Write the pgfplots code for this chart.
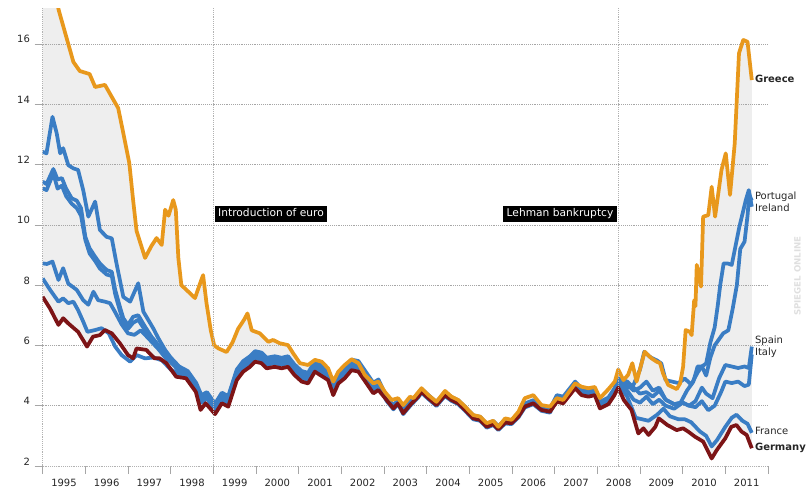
\documentclass[border=0pt]{standalone}
\usepackage{fontspec}
\setmainfont{DejaVu Sans}
\usepackage{pgfplots}
\pgfplotsset{compat=1.18}
\usepgfplotslibrary{fillbetween}
\definecolor{grorange}{RGB}{232,152,28}
\definecolor{eublue}{RGB}{58,125,196}
\definecolor{dered}{RGB}{125,20,22}
\definecolor{envfill}{RGB}{238,238,238}
\tikzset{fill between/on layer=axis background}
\begin{document}
\begin{tikzpicture}
\begin{axis}[
    at={(0,0)}, anchor=south west,
    scale only axis, width=544pt, height=343.5pt,
    set layers, clip mode=individual,
    xmin=1995, xmax=2012, ymin=2, ymax=17.19,
    axis x line*=bottom, axis y line*=left,
    axis line style={gray!60, densely dotted},
    xtick={1995,1996,...,2012},
    xticklabels={1995,1996,1997,1998,1999,2000,2001,2002,2003,2004,2005,2006,2007,2008,2009,2010,2011,{}},
    xticklabel style={xshift=16pt, font=\fontsize{7.5}{8}\selectfont, text=black!85},
    ytick={2,4,...,16},
    yticklabel style={yshift=3.5pt, font=\fontsize{7.5}{8}\selectfont, text=black!85},
    /pgf/number format/assume math mode=true,
    tick align=outside, major tick length=6pt,
    tick style={gray!70, solid, thin},
    ymajorgrids, grid style={gray!70, densely dotted},
    no markers,
    every axis plot/.append style={line width=2.8pt, line join=round},
]
% Italy
\addplot[eublue] coordinates {
(1995.00,12.42) (1995.09,12.37) (1995.23,13.58) (1995.33,13.03) (1995.41,12.37) (1995.48,12.54)
(1995.60,11.98) (1995.72,11.87) (1995.83,11.82) (1995.95,11.15) (1996.07,10.27) (1996.23,10.77)
(1996.34,9.83) (1996.50,9.60) (1996.62,9.55) (1996.73,8.72) (1996.89,7.61) (1997.05,7.45)
(1997.24,8.06) (1997.36,7.12) (1997.59,6.57) (1997.71,6.24) (1997.87,5.85) (1998.00,5.60)
(1998.20,5.30) (1998.40,5.15) (1998.60,4.75) (1998.72,4.35) (1998.85,4.45)
(1999.04,4.07) (1999.20,4.43) (1999.35,4.32) (1999.55,5.20) (1999.70,5.48) (1999.86,5.64)
(1999.98,5.81) (2000.13,5.76) (2000.25,5.59) (2000.44,5.64) (2000.60,5.59) (2000.75,5.64)
(2000.90,5.37) (2001.07,5.15) (2001.22,5.09) (2001.38,5.48) (2001.50,5.37) (2001.69,5.20)
(2001.81,4.70) (2001.93,5.09) (2002.08,5.26) (2002.24,5.53) (2002.40,5.48) (2002.59,5.09)
(2002.75,4.76) (2002.87,4.87)
(2003.06,4.29) (2003.22,4.01) (2003.33,4.18) (2003.45,3.85) (2003.61,4.12) (2003.80,4.40)
(2003.88,4.56) (2004.04,4.35) (2004.23,4.12) (2004.43,4.45) (2004.58,4.29) (2004.74,4.18)
(2004.90,3.96) (2005.09,3.68) (2005.25,3.63) (2005.41,3.40) (2005.56,3.49) (2005.68,3.32)
(2005.84,3.54) (2005.99,3.52) (2006.15,3.74) (2006.30,4.07) (2006.50,4.18) (2006.69,3.96)
(2006.89,3.90)
(2007.05,4.35) (2007.20,4.30) (2007.48,4.80) (2007.63,4.57) (2007.79,4.52) (2007.94,4.57)
(2008.06,4.13) (2008.26,4.27) (2008.40,4.57)
(2008.50,4.9) (2008.70,4.8) (2008.85,4.6) (2009.00,4.4) (2009.15,4.45) (2009.30,4.3)
(2009.45,4.5) (2009.60,4.2) (2009.80,4.05) (2010.00,4.1) (2010.15,4.0) (2010.30,3.95)
(2010.45,4.15) (2010.60,3.85) (2010.75,4.0) (2010.90,4.45) (2011.00,4.8) (2011.15,4.75)
(2011.30,4.8) (2011.45,4.65) (2011.55,4.7) (2011.62,5.7)
};
% Spain
\addplot[eublue] coordinates {
(1995.00,11.43) (1995.09,11.35) (1995.25,11.85) (1995.35,11.5) (1995.45,11.55) (1995.55,11.2)
(1995.68,10.88) (1995.80,10.8) (1995.90,10.55) (1996.00,9.6) (1996.10,9.22) (1996.23,8.94)
(1996.34,8.72) (1996.50,8.5) (1996.62,8.44) (1996.70,7.84) (1996.81,7.28) (1996.89,6.9)
(1997.00,6.68) (1997.12,6.95) (1997.24,7.0) (1997.40,6.62) (1997.55,6.29) (1997.71,6.01)
(1997.87,5.7) (1998.00,5.5) (1998.20,5.2) (1998.40,5.05) (1998.60,4.65) (1998.72,4.25)
(1998.85,4.35)
(1999.04,3.97) (1999.20,4.33) (1999.35,4.22) (1999.55,5.10) (1999.70,5.38) (1999.86,5.54)
(1999.98,5.71) (2000.13,5.66) (2000.25,5.49) (2000.44,5.54) (2000.60,5.49) (2000.75,5.54)
(2000.90,5.27) (2001.07,5.05) (2001.22,4.99) (2001.38,5.38) (2001.50,5.27) (2001.69,5.10)
(2001.81,4.60) (2001.93,4.99) (2002.08,5.16) (2002.24,5.43) (2002.40,5.38) (2002.59,4.99)
(2002.75,4.66) (2002.87,4.77)
(2003.06,4.26) (2003.22,3.98) (2003.33,4.15) (2003.45,3.82) (2003.61,4.09) (2003.80,4.37)
(2003.88,4.53) (2004.04,4.32) (2004.23,4.09) (2004.43,4.42) (2004.58,4.26) (2004.74,4.15)
(2004.90,3.93) (2005.09,3.65) (2005.25,3.60) (2005.41,3.37) (2005.56,3.46) (2005.68,3.29)
(2005.84,3.51) (2005.99,3.49) (2006.15,3.71) (2006.30,4.04) (2006.50,4.15) (2006.69,3.93)
(2006.89,3.87)
(2007.05,4.25) (2007.20,4.20) (2007.48,4.70) (2007.63,4.47) (2007.79,4.42) (2007.94,4.47)
(2008.06,4.03) (2008.26,4.17) (2008.40,4.47)
(2008.50,4.8) (2008.70,4.5) (2008.85,4.2) (2009.00,4.1) (2009.15,4.3) (2009.30,4.05)
(2009.45,4.2) (2009.60,4.0) (2009.80,3.9) (2010.00,4.1) (2010.15,4.0) (2010.30,4.15)
(2010.45,4.6) (2010.55,4.4) (2010.70,4.25) (2010.85,4.9) (2011.00,5.35) (2011.15,5.3)
(2011.30,5.25) (2011.45,5.3) (2011.55,5.25) (2011.62,5.96)
};
% Portugal
\addplot[eublue] coordinates {
(1995.00,11.21) (1995.09,11.15) (1995.25,11.7) (1995.35,11.2) (1995.45,11.3) (1995.55,10.95)
(1995.68,10.7) (1995.80,10.55) (1995.90,10.3) (1996.00,9.5) (1996.10,9.05) (1996.23,8.8)
(1996.34,8.55) (1996.50,8.35) (1996.62,8.3) (1996.70,7.7) (1996.81,7.15) (1996.89,6.8)
(1997.00,6.55) (1997.12,6.75) (1997.24,6.85) (1997.40,6.5) (1997.55,6.15) (1997.71,5.9)
(1997.87,5.65) (1998.00,5.45) (1998.20,5.2) (1998.40,5.0) (1998.60,4.6) (1998.72,4.2)
(1998.85,4.3)
(1999.04,4.02) (1999.20,4.38) (1999.35,4.27) (1999.55,5.15) (1999.70,5.43) (1999.86,5.59)
(1999.98,5.76) (2000.13,5.71) (2000.25,5.54) (2000.44,5.59) (2000.60,5.54) (2000.75,5.59)
(2000.90,5.32) (2001.07,5.10) (2001.22,5.04) (2001.38,5.43) (2001.50,5.32) (2001.69,5.15)
(2001.81,4.65) (2001.93,5.04) (2002.08,5.21) (2002.24,5.48) (2002.40,5.43) (2002.59,5.04)
(2002.75,4.71) (2002.87,4.82)
(2003.06,4.28) (2003.22,4.00) (2003.33,4.17) (2003.45,3.84) (2003.61,4.11) (2003.80,4.39)
(2003.88,4.55) (2004.04,4.34) (2004.23,4.11) (2004.43,4.44) (2004.58,4.28) (2004.74,4.17)
(2004.90,3.95) (2005.09,3.67) (2005.25,3.62) (2005.41,3.39) (2005.56,3.48) (2005.68,3.31)
(2005.84,3.53) (2005.99,3.51) (2006.15,3.73) (2006.30,4.06) (2006.50,4.17) (2006.69,3.95)
(2006.89,3.89)
(2007.05,4.31) (2007.20,4.26) (2007.48,4.76) (2007.63,4.53) (2007.79,4.48) (2007.94,4.53)
(2008.06,4.09) (2008.26,4.23) (2008.40,4.53)
(2008.50,4.8) (2008.70,4.7) (2008.85,4.5) (2009.00,4.6) (2009.15,4.8) (2009.30,4.5)
(2009.45,4.6) (2009.60,4.2) (2009.80,4.05) (2009.95,4.1) (2010.10,4.5) (2010.25,4.8)
(2010.35,5.3) (2010.45,5.3) (2010.55,5.0) (2010.65,5.6) (2010.75,6.0) (2010.85,6.2)
(2010.95,6.4) (2011.07,6.5) (2011.17,7.2) (2011.27,8.0) (2011.35,9.2) (2011.45,9.44)
(2011.52,10.3) (2011.56,11.0) (2011.62,10.8)
};
% Ireland
\addplot[eublue] coordinates {
(1995.00,8.72) (1995.10,8.70) (1995.23,8.78) (1995.37,8.17) (1995.48,8.56) (1995.60,8.05)
(1995.80,7.84) (1995.95,7.5) (1996.07,7.35) (1996.19,7.78) (1996.30,7.5) (1996.46,7.45)
(1996.58,7.4) (1996.70,7.1) (1996.85,6.7) (1997.00,6.4) (1997.15,6.35) (1997.30,6.5)
(1997.50,6.2) (1997.70,5.9) (1997.87,5.6) (1998.00,5.45) (1998.20,5.15) (1998.40,5.0)
(1998.60,4.55) (1998.72,4.1) (1998.85,4.25)
(1999.04,3.92) (1999.20,4.28) (1999.35,4.17) (1999.55,5.05) (1999.70,5.33) (1999.86,5.49)
(1999.98,5.66) (2000.13,5.61) (2000.25,5.44) (2000.44,5.49) (2000.60,5.44) (2000.75,5.49)
(2000.90,5.22) (2001.07,5.00) (2001.22,4.94) (2001.38,5.33) (2001.50,5.22) (2001.69,5.05)
(2001.81,4.55) (2001.93,4.94) (2002.08,5.11) (2002.24,5.38) (2002.40,5.33) (2002.59,4.94)
(2002.75,4.61) (2002.87,4.72)
(2003.06,4.16) (2003.22,3.88) (2003.33,4.05) (2003.45,3.72) (2003.61,3.99) (2003.80,4.27)
(2003.88,4.43) (2004.04,4.22) (2004.23,3.99) (2004.43,4.32) (2004.58,4.16) (2004.74,4.05)
(2004.90,3.83) (2005.09,3.55) (2005.25,3.50) (2005.41,3.27) (2005.56,3.36) (2005.68,3.19)
(2005.84,3.41) (2005.99,3.39) (2006.15,3.61) (2006.30,3.94) (2006.50,4.05) (2006.69,3.83)
(2006.89,3.77)
(2007.05,4.23) (2007.20,4.18) (2007.48,4.68) (2007.63,4.45) (2007.79,4.40) (2007.94,4.45)
(2008.06,4.01) (2008.26,4.15) (2008.40,4.45)
(2008.50,4.75) (2008.70,4.6) (2008.85,4.7) (2009.00,5.2) (2009.10,5.79) (2009.25,5.6)
(2009.40,5.5) (2009.50,5.4) (2009.60,4.85) (2009.75,4.8) (2009.90,4.75) (2010.05,4.9)
(2010.20,4.7) (2010.35,5.1) (2010.45,5.3) (2010.55,5.4) (2010.65,6.1) (2010.75,6.6)
(2010.82,7.3) (2010.88,8.0) (2010.96,8.72) (2011.05,8.72) (2011.15,8.67) (2011.33,9.94)
(2011.48,10.82) (2011.55,11.15) (2011.62,10.6)
};
% France
\addplot[eublue] coordinates {
(1995.00,8.22) (1995.17,7.85) (1995.37,7.45) (1995.48,7.56) (1995.60,7.4) (1995.72,7.45)
(1995.83,7.17) (1995.95,6.79) (1996.05,6.45) (1996.23,6.51) (1996.38,6.57) (1996.55,6.4)
(1996.70,5.96) (1996.85,5.68) (1997.05,5.46) (1997.20,5.68) (1997.40,5.57) (1997.60,5.6)
(1997.80,5.5) (1998.00,5.2) (1998.20,5.05) (1998.40,4.95) (1998.60,4.6) (1998.72,4.15)
(1998.85,4.25)
(1999.04,3.84) (1999.20,4.20) (1999.35,4.09) (1999.55,4.97) (1999.70,5.25) (1999.86,5.41)
(1999.98,5.58) (2000.13,5.53) (2000.25,5.36) (2000.44,5.41) (2000.60,5.36) (2000.75,5.41)
(2000.90,5.14) (2001.07,4.92) (2001.22,4.86) (2001.38,5.25) (2001.50,5.14) (2001.69,4.97)
(2001.81,4.47) (2001.93,4.86) (2002.08,5.03) (2002.24,5.30) (2002.40,5.25) (2002.59,4.86)
(2002.75,4.53) (2002.87,4.64)
(2003.06,4.23) (2003.22,3.95) (2003.33,4.12) (2003.45,3.79) (2003.61,4.06) (2003.80,4.34)
(2003.88,4.50) (2004.04,4.29) (2004.23,4.06) (2004.43,4.39) (2004.58,4.23) (2004.74,4.12)
(2004.90,3.90) (2005.09,3.62) (2005.25,3.57) (2005.41,3.34) (2005.56,3.43) (2005.68,3.26)
(2005.84,3.48) (2005.99,3.46) (2006.15,3.68) (2006.30,4.01) (2006.50,4.12) (2006.69,3.90)
(2006.89,3.84)
(2007.05,4.21) (2007.20,4.16) (2007.48,4.66) (2007.63,4.43) (2007.79,4.38) (2007.94,4.43)
(2008.06,3.99) (2008.26,4.13) (2008.40,4.43)
(2008.50,4.7) (2008.70,4.3) (2008.90,3.6) (2009.05,3.55) (2009.20,3.5) (2009.40,3.7)
(2009.55,3.9) (2009.70,3.65) (2009.90,3.55) (2010.05,3.55) (2010.20,3.45) (2010.40,3.15)
(2010.55,3.0) (2010.68,2.65) (2010.80,2.85) (2011.00,3.3) (2011.15,3.6) (2011.26,3.7)
(2011.40,3.5) (2011.52,3.4) (2011.62,3.1)
};
% Germany
\addplot[dered, name path=germanypath] coordinates {
(1995.00,7.61) (1995.17,7.23) (1995.37,6.68) (1995.48,6.90) (1995.60,6.73) (1995.83,6.45)
(1996.04,5.96) (1996.18,6.29) (1996.34,6.34) (1996.46,6.51) (1996.62,6.40) (1996.81,6.07)
(1997.00,5.68) (1997.12,5.57) (1997.20,5.90) (1997.43,5.85) (1997.62,5.57) (1997.74,5.57)
(1997.90,5.41) (1998.13,4.96) (1998.36,4.91) (1998.59,4.46) (1998.70,3.86) (1998.82,4.08)
(1999.04,3.72) (1999.20,4.08) (1999.35,3.97) (1999.55,4.85) (1999.70,5.13) (1999.86,5.29)
(1999.98,5.46) (2000.13,5.41) (2000.25,5.24) (2000.44,5.29) (2000.60,5.24) (2000.75,5.29)
(2000.90,5.02) (2001.07,4.80) (2001.22,4.74) (2001.38,5.13) (2001.50,5.02) (2001.69,4.85)
(2001.81,4.35) (2001.93,4.74) (2002.08,4.91) (2002.24,5.18) (2002.40,5.13) (2002.59,4.74)
(2002.75,4.41) (2002.87,4.52)
(2003.06,4.19) (2003.22,3.91) (2003.33,4.08) (2003.45,3.75) (2003.61,4.02) (2003.80,4.30)
(2003.88,4.46) (2004.04,4.25) (2004.23,4.02) (2004.43,4.35) (2004.58,4.19) (2004.74,4.08)
(2004.90,3.86) (2005.09,3.58) (2005.25,3.53) (2005.41,3.30) (2005.56,3.39) (2005.68,3.22)
(2005.84,3.44) (2005.99,3.42) (2006.15,3.64) (2006.30,3.97) (2006.50,4.08) (2006.69,3.86)
(2006.89,3.80)
(2007.05,4.13) (2007.20,4.08) (2007.48,4.58) (2007.63,4.35) (2007.79,4.30) (2007.94,4.35)
(2008.06,3.91) (2008.26,4.05) (2008.40,4.35) (2008.49,4.60)
(2008.62,4.19) (2008.80,3.86) (2008.96,3.08) (2009.08,3.25) (2009.20,3.03) (2009.36,3.30)
(2009.44,3.58) (2009.64,3.36) (2009.86,3.19) (2010.01,3.25) (2010.13,3.14) (2010.29,2.97)
(2010.48,2.81) (2010.60,2.47) (2010.68,2.25) (2010.80,2.53) (2011.00,2.92) (2011.14,3.30)
(2011.26,3.36) (2011.38,3.14) (2011.50,3.03) (2011.62,2.59)
};
% Greece
\addplot[grorange, name path=greecepath] coordinates {
(1995.00,19.5) (1995.20,18.2) (1995.38,17.1) (1995.60,16.0) (1995.72,15.4) (1995.87,15.1)
(1996.10,15.0) (1996.23,14.57) (1996.46,14.64) (1996.62,14.24) (1996.77,13.87) (1996.89,13.04)
(1997.03,12.05) (1997.12,10.82) (1997.20,9.8) (1997.40,8.9) (1997.55,9.3) (1997.67,9.56)
(1997.79,9.33) (1997.87,10.5) (1997.95,10.3) (1998.06,10.82) (1998.12,10.5) (1998.18,8.9)
(1998.25,8.0) (1998.40,7.8) (1998.57,7.57) (1998.70,8.1) (1998.76,8.33) (1998.84,7.4)
(1998.94,6.5) (1999.02,6.0) (1999.12,5.9) (1999.31,5.78) (1999.45,6.1) (1999.58,6.55)
(1999.72,6.85) (1999.80,7.06) (1999.90,6.5) (2000.09,6.4) (2000.29,6.12) (2000.40,6.18)
(2000.56,6.07) (2000.75,6.01) (2000.87,5.74) (2001.03,5.41) (2001.22,5.35) (2001.38,5.52)
(2001.54,5.46) (2001.69,5.24) (2001.81,4.8) (2001.93,5.13) (2002.08,5.35) (2002.24,5.54)
(2002.40,5.41) (2002.55,5.02) (2002.75,4.74) (2002.87,4.8) (2003.02,4.46) (2003.18,4.19)
(2003.33,4.25) (2003.45,4.02) (2003.61,4.3) (2003.69,4.25) (2003.88,4.58) (2004.04,4.35)
(2004.23,4.13) (2004.43,4.49) (2004.58,4.3) (2004.74,4.19) (2004.90,3.97) (2005.09,3.69)
(2005.25,3.64) (2005.41,3.42) (2005.56,3.5) (2005.68,3.3) (2005.84,3.58) (2005.99,3.53)
(2006.15,3.8) (2006.30,4.25) (2006.50,4.35) (2006.69,4.02) (2006.89,3.97) (2007.05,4.25)
(2007.20,4.19) (2007.48,4.74) (2007.63,4.63) (2007.79,4.58) (2007.94,4.62) (2008.06,4.25)
(2008.26,4.55) (2008.41,4.8) (2008.49,5.2) (2008.61,4.85) (2008.72,5.02) (2008.82,5.41)
(2008.92,4.8) (2009.11,5.79) (2009.27,5.57) (2009.39,5.46) (2009.47,5.41) (2009.54,5.07)
(2009.66,4.69) (2009.86,4.55) (2009.94,4.74) (2010.01,5.29) (2010.07,6.51) (2010.17,6.45)
(2010.21,6.34) (2010.27,7.5) (2010.30,7.3) (2010.33,8.67) (2010.43,7.95) (2010.48,10.27)
(2010.60,10.32) (2010.68,11.26) (2010.76,10.27) (2010.91,11.82) (2011.01,12.37) (2011.11,10.99)
(2011.22,12.7) (2011.32,15.69) (2011.42,16.13) (2011.52,16.07) (2011.62,14.8)
};
% gray envelope between highest and lowest yields (drawn on the background layer)
\addplot[envfill] fill between[of=greecepath and germanypath];

% event markers
\draw[gray!60, densely dotted] (axis cs:1999,2) -- (axis cs:1999,17.19);
\draw[gray!60, densely dotted] (axis cs:2008.5,2) -- (axis cs:2008.5,17.19);
\node[anchor=south west, fill=black, text=white, font=\fontsize{8}{9}\selectfont,
      text height=6pt, text depth=1.8pt, inner xsep=2.5pt, inner ysep=2.1pt]
      at (axis cs:1999.03,10.08) {Introduction of euro};
\node[anchor=south east, fill=black, text=white, font=\fontsize{8}{9}\selectfont,
      text height=6pt, text depth=1.8pt, inner xsep=2.5pt, inner ysep=2.1pt]
      at (axis cs:2008.46,10.08) {Lehman bankruptcy};

% end labels
\begin{scope}[every node/.style={anchor=west, inner sep=0pt, font=\fontsize{7.5}{8}\selectfont, text=black!85}]
\node at (axis cs:2011.69,14.84) {\textbf{Greece}};
\node at (axis cs:2011.69,10.92) {Portugal};
\node at (axis cs:2011.69,10.56) {Ireland};
\node at (axis cs:2011.69,6.15) {Spain};
\node at (axis cs:2011.69,5.75) {Italy};
\node at (axis cs:2011.69,3.16) {France};
\node at (axis cs:2011.69,2.60) {\textbf{Germany}};
\end{scope}
\node[rotate=90, text=gray!25, font=\fontsize{6.5}{7}\selectfont\bfseries] at (axis cs:2012.69,8.3) {SPIEGEL ONLINE};
\end{axis}
\pgfresetboundingbox
\path (-32pt,-15.75pt) rectangle (572.5pt,349.5pt);
\end{tikzpicture}
\end{document}
